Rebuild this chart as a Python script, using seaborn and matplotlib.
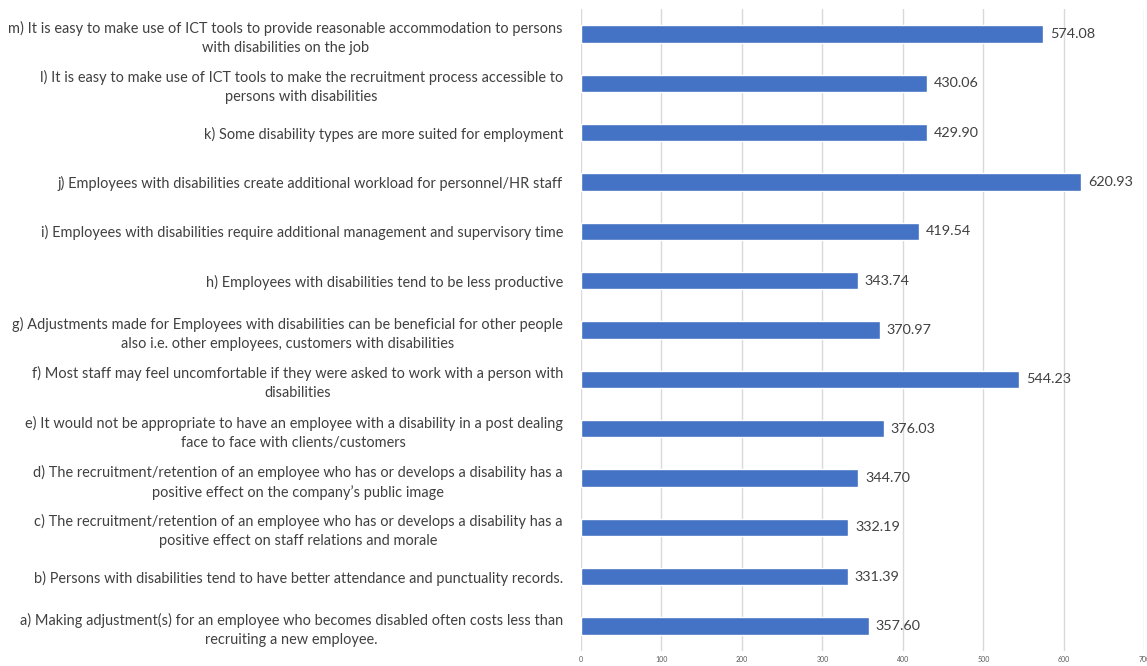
import matplotlib
matplotlib.use("Agg")
import matplotlib.pyplot as plt
import seaborn as sns
import pandas as pd

statements = [
    "m) It is easy to make use of ICT tools to provide reasonable accommodation to persons\nwith disabilities on the job",
    "l) It is easy to make use of ICT tools to make the recruitment process accessible to\npersons with disabilities",
    "k) Some disability types are more suited for employment",
    "j) Employees with disabilities create additional workload for personnel/HR staff",
    "i) Employees with disabilities require additional management and supervisory time",
    "h) Employees with disabilities tend to be less productive",
    "g) Adjustments made for Employees with disabilities can be beneficial for other people\nalso i.e. other employees, customers with disabilities",
    "f) Most staff may feel uncomfortable if they were asked to work with a person with\ndisabilities",
    "e) It would not be appropriate to have an employee with a disability in a post dealing\nface to face with clients/customers",
    "d) The recruitment/retention of an employee who has or develops a disability has a\npositive effect on the company\u2019s public image",
    "c) The recruitment/retention of an employee who has or develops a disability has a\npositive effect on staff relations and morale",
    "b) Persons with disabilities tend to have better attendance and punctuality records.",
    "a) Making adjustment(s) for an employee who becomes disabled often costs less than\nrecruiting a new employee.",
]
scores = [574.08, 430.06, 429.90, 620.93, 419.54, 343.74, 370.97,
          544.23, 376.03, 344.70, 332.19, 331.39, 357.60]
x_ticks = [0, 100, 200, 300, 400, 500, 600, 700]

df = pd.DataFrame({"statement": statements, "score": scores})

sns.set_theme(style="white")
plt.rcParams["font.family"] = ["Lato", "DejaVu Sans"]

text_color = "#404040"
bar_color = "#4472C4"
grid_color = "#D9D9D9"

fig = plt.figure(figsize=(11.47, 6.66), dpi=100)
ax = fig.add_axes([0.5065, 0.023, 0.4913, 0.963])

sns.barplot(data=df, x="score", y="statement", order=statements,
            color=bar_color, width=0.35, saturation=1, ax=ax, zorder=3)

ax.set_xlim(0, 700)
ax.set_ylim(len(statements) - 0.5, -0.5)
ax.set_xticks(x_ticks)
ax.set_xticklabels([str(t) for t in x_ticks], fontsize=5, color="#595959")
ax.tick_params(axis="x", length=0, pad=4)
ax.tick_params(axis="y", length=0, pad=13)
for lbl in ax.get_yticklabels():
    lbl.set_fontsize(10.48)
    lbl.set_color(text_color)
    lbl.set_multialignment("center")
    lbl.set_linespacing(1.45)

ax.xaxis.grid(True, color=grid_color, linewidth=1, zorder=0)
ax.yaxis.grid(False)
for side in ["top", "right", "bottom", "left"]:
    ax.spines[side].set_visible(False)
ax.set_xlabel("")
ax.set_ylabel("")

for container in ax.containers:
    ax.bar_label(container, labels=[f"{v:.2f}" for v in scores],
                 padding=5, fontsize=10.4, color=text_color)

fig.savefig("out.png", dpi=100)
